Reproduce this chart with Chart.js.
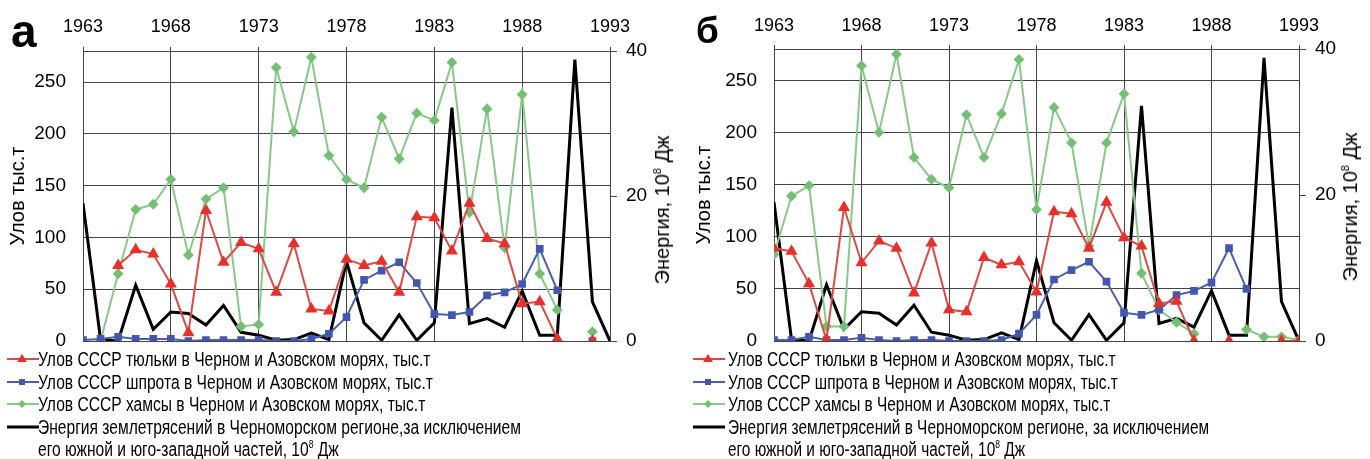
<!DOCTYPE html>
<html><head><meta charset="utf-8">
<script src="https://cdn.jsdelivr.net/npm/chart.js@4.4.0/dist/chart.umd.min.js"></script>
<style>
html,body{margin:0;padding:0;background:#fff;}
body{width:1370px;height:459px;position:relative;overflow:hidden;font-family:"Liberation Sans",Arial,sans-serif;color:#000;}
.panel{position:absolute;top:0;height:369.4px;}
.letter{position:absolute;font-weight:bold;line-height:1;color:#000;}
.rtitle{position:absolute;white-space:nowrap;font-size:20px;transform:translate(-50%,-50%) rotate(-90deg);line-height:1;}
.rtitle sup,.leg sup{font-size:11px;vertical-align:8px;line-height:0;}
.leg{position:absolute;top:348px;font-size:20px;line-height:22.5px;}
.row{height:22.5px;white-space:nowrap;position:relative;}
.row.two{height:45px;}
.row svg{position:absolute;left:0;top:4px;}
.row .t{position:absolute;top:0;transform-origin:0 50%;display:inline-block;}
</style></head>
<body>
<div class="panel" style="left:0;width:685px;"><canvas id="ca"></canvas></div>
<div class="panel" style="left:690px;width:680px;"><canvas id="cb"></canvas></div>
<div class="letter" style="left:11px;top:8px;font-size:46px;">а</div>
<div class="letter" style="left:696px;top:12px;font-size:37px;">б</div>
<div class="rtitle" style="left:662px;top:210px;">Энергия, 10<sup>8</sup> Дж</div>
<div class="rtitle" style="left:1350px;top:207px;">Энергия, 10<sup>8</sup> Дж</div>
<div class="leg" id="legA" style="left:7px;"></div>
<div class="leg" id="legB" style="left:693px;"></div>
<script>
// ---- data ----
const years = [1963,1964,1965,1966,1967,1968,1969,1970,1971,1972,1973,1974,1975,1976,1977,1978,1979,1980,1981,1982,1983,1984,1985,1986,1987,1988,1989,1990,1991,1992,1993];
const xTickYears = [1963,1968,1973,1978,1983,1988,1993];
const leftTicks = [0,50,100,150,200,250];
const rightTicks = [0,20,40];

// panel а
const tyulkaA = [null,null,73,88,84,55,8,126,76,95,89,47,94,31,29,79,73,77,47,120,119,87,133,99,94,36,38,2,null,0,null];
const shprotA = [1,2,4,2,2,2,0,1,1,1,1,0,0,2,7,23,59,68,76,56,26,25,28,44,47,55,89,49,null,0,null];
const hamsaA  = [null,0,65,127,132,156,83,137,148,14,16,264,202,274,179,156,148,216,176,220,213,269,124,224,90,238,65,30,null,9,null];
// panel б
const tyulkaB = [89,86,55,1,128,75,96,89,46,94,30,28,80,73,76,47,124,122,89,133,99,91,36,38,0,null,0,null,null,0,0];
const shprotB = [1,1,4,1,1,3,1,0,1,1,0,0,0,1,7,25,59,68,76,57,27,25,30,44,48,56,89,50,null,null,null];
const hamsaB  = [83,139,149,14,14,264,200,275,176,155,147,217,176,218,270,126,224,190,91,190,237,65,30,18,7,null,null,11,4,4,1];
// energy (same in both panels)
const energy  = [19,0.2,0,7.7,1.6,4,3.8,2.2,4.9,1.2,0.8,0.1,0.2,1.1,0.2,11,2.5,0.1,3.6,0.1,2.5,32.2,2.4,3.1,1.9,6.9,0.8,0.8,38.8,5.4,0];

const leftTitle = 'Улов тыс.т';
const labels = [
  'Улов СССР тюльки в Черном и Азовском морях, тыс.т',
  'Улов СССР шпрота в Черном и Азовском морях, тыс.т',
  'Улов СССР хамсы в Черном и Азовском морях, тыс.т'
];
const energyLabelA = ['Энергия землетрясений в Черноморском регионе,за исключением','его южной и юго-западной частей, 10<sup>8</sup> Дж'];
const energyLabelB = ['Энергия землетрясений в Черноморском регионе, за исключением','его южной и юго-западной частей, 10<sup>8</sup> Дж'];

// ---- styles ----
const FONT = '"Liberation Sans", Arial, sans-serif';
const GRID = '#444';
const RED = {line:'#dc4b43', fill:'#e8302a'};
const BLUE = {line:'#4b5fae', fill:'#4356b0'};
const GREEN = {line:'#88c888', fill:'#74bf74'};

const pts = arr => years.map((yr,i)=>({x:yr, y:arr[i]}));

const framePlugin = {
  id:'frame',
  beforeDatasetsDraw(chart){
    const {ctx, chartArea:a} = chart;
    ctx.save(); ctx.strokeStyle = GRID; ctx.lineWidth = 1;
    ctx.strokeRect(Math.round(a.left)+0.5, Math.round(a.top)+0.5, Math.round(a.right-a.left), Math.round(a.bottom-a.top));
    ctx.restore();
  }
};

function makeChart(id, red, blue, green, lay){
  return new Chart(document.getElementById(id), {
    type:'line',
    data:{datasets:[
      {data:pts(red), yAxisID:'y', borderColor:RED.line, backgroundColor:RED.fill, borderWidth:2, pointStyle:'triangle', pointRadius:5, pointBorderColor:RED.fill, pointBackgroundColor:RED.fill, tension:0, spanGaps:false},
      {data:pts(blue), yAxisID:'y', borderColor:BLUE.line, backgroundColor:BLUE.fill, borderWidth:2, pointStyle:'rect', pointRadius:4, pointBorderColor:BLUE.fill, pointBackgroundColor:BLUE.fill, tension:0, spanGaps:false},
      {data:pts(green), yAxisID:'y', borderColor:GREEN.line, backgroundColor:GREEN.fill, borderWidth:2, pointStyle:'rectRot', pointRadius:4, pointBorderColor:GREEN.fill, pointBackgroundColor:GREEN.fill, tension:0, spanGaps:false},
      {data:pts(energy), yAxisID:'y1', borderColor:'#000', borderWidth:3, pointRadius:0, tension:0}
    ]},
    options:{
      responsive:true, maintainAspectRatio:false, animation:false,
      layout:{padding:0},
      plugins:{legend:{display:false}, tooltip:{enabled:false}},
      scales:{
        x:{type:'linear', position:'top', min:1963, max:1993,
          afterBuildTicks:s=>{s.ticks = xTickYears.map(v=>({value:v}));},
          afterFit:s=>{s.height = lay.top;},
          grid:{color:GRID, lineWidth:1, drawTicks:true, tickLength:4, tickColor:GRID},
          border:{display:false},
          ticks:{font:{size:18, family:FONT}, color:'#000', padding:lay.xpad, maxRotation:0, autoSkip:false, callback:v=>String(v)}},
        y:{position:'left', min:0, max:280,
          afterBuildTicks:s=>{s.ticks = leftTicks.map(v=>({value:v}));},
          afterFit:s=>{s.width = lay.left;},
          grid:{color:GRID, lineWidth:1, drawTicks:false},
          border:{display:false},
          ticks:{font:{size:19, family:FONT}, color:'#000', padding:17, callback:v=>String(v)},
          title:{display:true, text:leftTitle, font:{size:20, family:FONT}, color:'#000', padding:{top:lay.tpad,bottom:0}}},
        y1:{position:'right', min:0, max:40,
          afterBuildTicks:s=>{s.ticks = rightTicks.map(v=>({value:v}));},
          afterFit:s=>{s.width = lay.right;},
          grid:{drawOnChartArea:false, drawTicks:true, tickLength:7, tickColor:GRID},
          border:{display:false},
          ticks:{font:{size:19, family:FONT}, color:'#000', padding:9, callback:v=>String(v)}}
      }
    },
    plugins:[framePlugin]
  });
}

makeChart('ca', tyulkaA, shprotA, hamsaA, {top:51, left:83, right:75, tpad:6, xpad:9});
makeChart('cb', tyulkaB, shprotB, hamsaB, {top:49, left:84, right:71, tpad:2, xpad:8});

function sample(kind){
  const w = 32;
  let s = '<svg width="'+w+'" height="14" viewBox="0 0 '+w+' 14">';
  if(kind==='red'){ s += '<line x1="0" y1="7" x2="'+w+'" y2="7" stroke="'+RED.line+'" stroke-width="2"/><polygon points="15,2 20,10 10,10" fill="'+RED.fill+'"/>'; }
  if(kind==='blue'){ s += '<line x1="0" y1="7" x2="'+w+'" y2="7" stroke="'+BLUE.line+'" stroke-width="2"/><rect x="12" y="4" width="6" height="6" fill="'+BLUE.fill+'"/>'; }
  if(kind==='green'){ s += '<line x1="0" y1="7" x2="'+w+'" y2="7" stroke="'+GREEN.line+'" stroke-width="2"/><polygon points="15,3 19,7 15,11 11,7" fill="'+GREEN.fill+'"/>'; }
  if(kind==='black'){ s += '<line x1="0" y1="7" x2="'+w+'" y2="7" stroke="#000" stroke-width="3"/>'; }
  return s + '</svg>';
}
function buildLegend(id, energyLabel, textLeft, sx){
  const el = document.getElementById(id);
  const kinds = ['red','blue','green'];
  let h = '';
  kinds.forEach((k,i)=>{
    h += '<div class="row">'+sample(k)+'<span class="t" style="left:'+textLeft+'px;transform:scaleX('+sx+')">'+labels[i]+'</span></div>';
  });
  h += '<div class="row two">'+sample('black')+'<span class="t" style="left:'+textLeft+'px;transform:scaleX('+sx+');transform-origin:0 0">'+energyLabel[0]+'<br>'+energyLabel[1]+'</span></div>';
  el.innerHTML = h;
}
buildLegend('legA', energyLabelA, 31, 0.78);
buildLegend('legB', energyLabelB, 35, 0.77);
</script>
</body></html>
